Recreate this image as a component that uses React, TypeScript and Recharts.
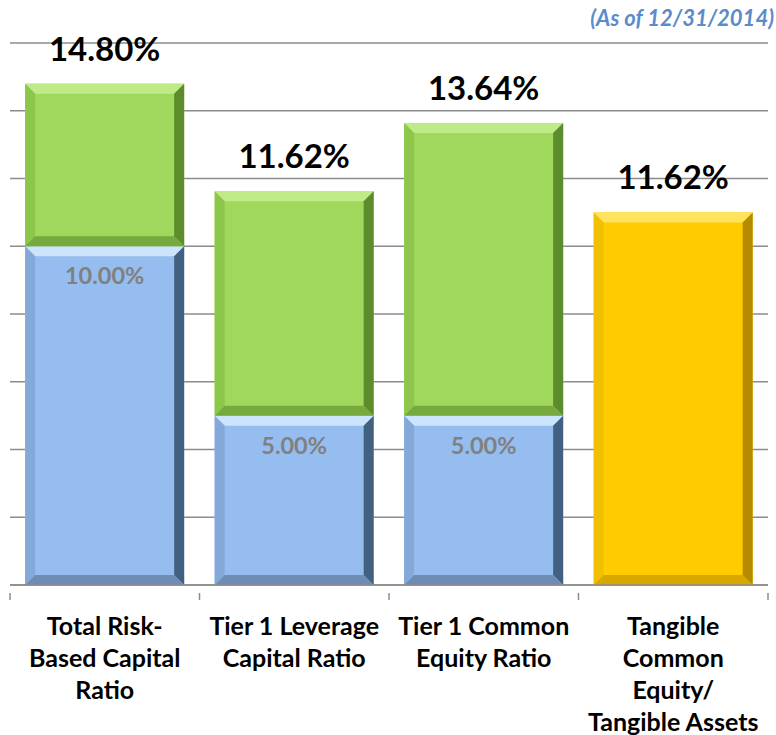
import React from "react";
import { BarChart, Bar, XAxis, YAxis, CartesianGrid, LabelList } from "recharts";

const categories = [
  "Total Risk-\nBased Capital\nRatio",
  "Tier 1 Leverage\nCapital Ratio",
  "Tier 1 Common\nEquity Ratio",
  "Tangible\nCommon\nEquity/\nTangible Assets",
];
// minimum requirement (blue), excess over minimum (green), TCE ratio (yellow)
const minimumValues = [10.0, 5.0, 5.0, 0];
const excessValues = [4.8, 6.62, 8.64, 0];
const tangibleValues = [0, 0, 0, 11.0];
const minimumLabels = ["10.00%", "5.00%", "5.00%", ""];
const totalLabels = ["14.80%", "11.62%", "13.64%", "11.62%"];
const yTicks = [0, 2, 4, 6, 8, 10, 12, 14, 16];

const data = categories.map((name, i) => ({
  name,
  minimum: minimumValues[i],
  excess: excessValues[i],
  tangible: tangibleValues[i],
}));

const FONT = "Lato, 'Open Sans', sans-serif";

type Palette = { main: string; top: string; left: string; right: string; bottom: string };

const green: Palette = { main: "#9fd85c", top: "#bfeb86", left: "#8cc74c", right: "#5c8c2c", bottom: "#76a93e" };
const blue: Palette = { main: "#96bdef", top: "#cde5fc", left: "#84a9d9", right: "#42607f", bottom: "#6e8db6" };
const yellow: Palette = { main: "#ffcc02", top: "#ffe35c", left: "#f2c000", right: "#b58c00", bottom: "#d9a800" };

function bevelShape(p: Palette) {
  return (props: any) => {
    const { x, y, width, height } = props;
    if (!height || height <= 0) return <g />;
    const b = Math.min(10, height / 2, width / 2);
    const x2 = x + width;
    const y2 = y + height;
    return (
      <g>
        <rect x={x} y={y} width={width} height={height} fill={p.main} />
        <polygon points={`${x},${y} ${x2},${y} ${x2 - b},${y + b} ${x + b},${y + b}`} fill={p.top} />
        <polygon points={`${x},${y} ${x + b},${y + b} ${x + b},${y2 - b} ${x},${y2}`} fill={p.left} />
        <polygon points={`${x2},${y} ${x2},${y2} ${x2 - b},${y2 - b} ${x2 - b},${y + b}`} fill={p.right} />
        <polygon points={`${x},${y2} ${x + b},${y2 - b} ${x2 - b},${y2 - b} ${x2},${y2}`} fill={p.bottom} />
      </g>
    );
  };
}

const CategoryTick = (props: any) => {
  const { x, y, payload, index, visibleTicksCount } = props;
  const half = payload.offset || 94.75;
  const lines = String(payload.value).split("\n");
  const last = index === (visibleTicksCount ?? 4) - 1;
  return (
    <g>
      <line x1={x - half} y1={y} x2={x - half} y2={y + 7} stroke="#8c8c8c" strokeWidth={1.5} />
      {last && <line x1={x + half} y1={y} x2={x + half} y2={y + 7} stroke="#8c8c8c" strokeWidth={1.5} />}
      <text x={x} y={y + 42} textAnchor="middle" fontFamily={FONT} fontWeight={700} fontSize={25} fill="#000">
        {lines.map((l, i) => (
          <tspan key={i} x={x} dy={i === 0 ? 0 : 32}>
            {l}
          </tspan>
        ))}
      </text>
    </g>
  );
};

const totalLabel = (props: any) => {
  const { x, y, width, value, index } = props;
  if (!value) return null;
  return (
    <text x={x + width / 2} y={y - 23} textAnchor="middle" fontFamily={FONT} fontWeight={700} fontSize={33} fill="#000">
      {totalLabels[index]}
    </text>
  );
};

const minimumLabel = (props: any) => {
  const { x, y, width, value, index } = props;
  if (!value) return null;
  return (
    <text x={x + width / 2} y={y + 38} textAnchor="middle" fontFamily={FONT} fontWeight={700} fontSize={23.5} fill="#808080">
      {minimumLabels[index]}
    </text>
  );
};

export default function App() {
  return (
    <div style={{ position: "absolute", left: 0, top: 0, width: 776, height: 735, background: "#fff" }}>
      <div
        style={{
          position: "absolute",
          right: 2,
          top: 4,
          fontFamily: FONT,
          fontStyle: "italic",
          fontWeight: 700,
          fontSize: 22,
          color: "#5b8bcb",
        }}
      >
        (As of 12/31/2014)
      </div>
      <BarChart
        width={776}
        height={735}
        data={data}
        margin={{ top: 43, right: 8, left: 10, bottom: 0 }}
        barCategoryGap="8%"
      >
        <CartesianGrid vertical={false} stroke="#8c8c8c" strokeWidth={1.5} />
        <YAxis hide domain={[0, 16]} ticks={yTicks} />
        <XAxis
          dataKey="name"
          height={150}
          interval={0}
          axisLine={{ stroke: "#8c8c8c", strokeWidth: 1.5 }}
          tickLine={false}
          tick={<CategoryTick />}
        />
        <Bar dataKey="minimum" stackId="a" isAnimationActive={false} shape={bevelShape(blue)}>
          <LabelList dataKey="minimum" content={minimumLabel} />
        </Bar>
        <Bar dataKey="excess" stackId="a" isAnimationActive={false} shape={bevelShape(green)}>
          <LabelList dataKey="excess" content={totalLabel} />
        </Bar>
        <Bar dataKey="tangible" stackId="a" isAnimationActive={false} shape={bevelShape(yellow)}>
          <LabelList dataKey="tangible" content={totalLabel} />
        </Bar>
      </BarChart>
    </div>
  );
}
